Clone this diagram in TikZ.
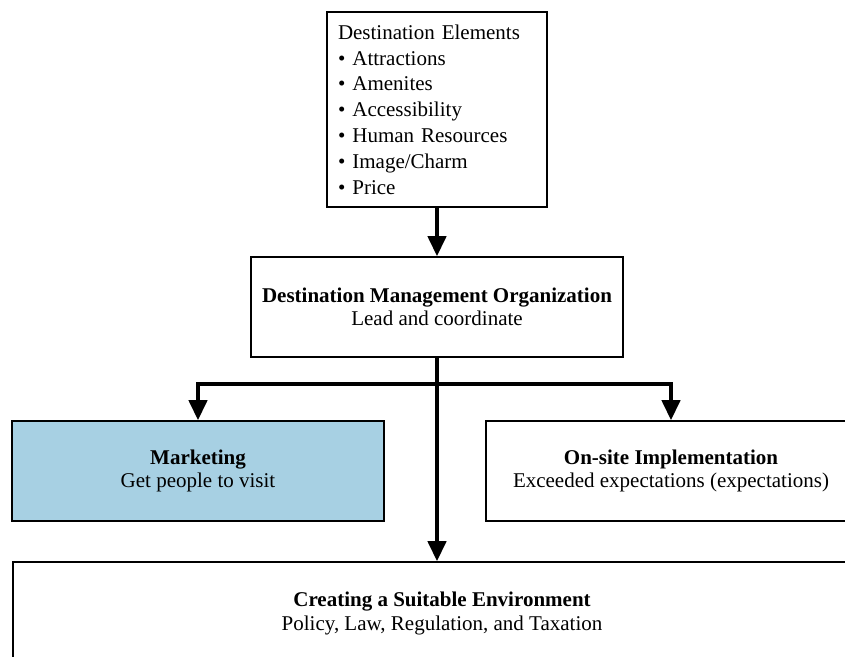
\documentclass[tikz,border=0pt]{standalone}
\usepackage{fontspec}
\setmainfont{Liberation Serif}
\usetikzlibrary{arrows.meta, positioning}

\definecolor{mktblue}{RGB}{167,208,227}

\tikzset{
    box/.style={draw, line width=1pt, align=center, inner sep=0pt,
        font=\fontsize{12.6}{14}\selectfont},
    link/.style={draw, line width=2pt, -{Triangle[width=11pt,length=12pt]}}
}

\begin{document}
\begin{tikzpicture}[x=0.6pt, y=-0.6pt]
            \useasboundingbox (0,0) rectangle (845,657);
            \clip (0,0) rectangle (845,657);

            % the elements box at the top
            \node[box, align=left, minimum width=132pt, minimum height=117pt, text width=118.8pt,
                font=\fontsize{12.6}{15.5}\selectfont] (elements) at (437,109.5) {Destination Elements\\
                \textbullet\ Attractions\\
                \textbullet\ Amenites\\
                \textbullet\ Accessibility\\
                \textbullet\ Human Resources\\
                \textbullet\ Image/Charm\\
                \textbullet\ Price};

            % the organization box
            \node[box, minimum width=223.2pt, minimum height=60pt] (dmo) at (437,307)
                {\textbf{Destination Management Organization}\\Lead and coordinate};

            % the two branches
            \node[box, fill=mktblue, minimum width=223.2pt, minimum height=60pt] (marketing) at (198,471)
                {\textbf{Marketing}\\Get people to visit};
            \node[box, minimum width=222pt, minimum height=60pt] (onsite) at (671,471)
                {\textbf{On-site Implementation}\\Exceeded expectations (expectations)};

            % the environment box, cut off at the edges
            \node[box, minimum width=514.8pt, minimum height=61.8pt] (environment) at (442,613.5)
                {\textbf{Creating a Suitable Environment}\\Policy, Law, Regulation, and Taxation};

            % connectors
            \coordinate (split) at (437,384);
            \draw[link] (elements) -- (dmo);
            \draw[link] (dmo.south) -- (dmo.south |- environment.north);
            \draw[link] (split) -| (marketing);
            \draw[link] (split) -| (onsite);

        \end{tikzpicture}
\end{document}
